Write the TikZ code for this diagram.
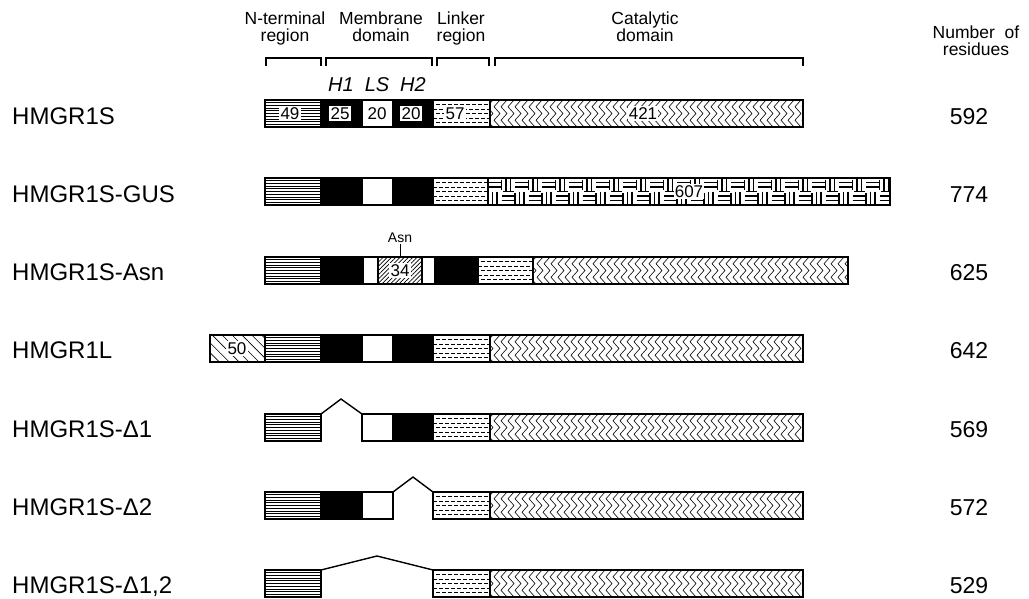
\documentclass[tikz,border=0pt]{standalone}
\usepackage{fontspec}
\setmainfont{Liberation Sans}
\usetikzlibrary{patterns.meta}

% segment macros: #1 = left x, #2 = right x, #3 = top y (bar height 27)
\newcommand\segOutline[3]{\draw[segline] (#1,#3) rectangle (#2,#3+27);}
\newcommand\segBlack[3]{\fill[black] (#1,#3) rectangle (#2,#3+27);\segOutline{#1}{#2}{#3}}
\newcommand\segWhite[3]{\fill[white] (#1,#3) rectangle (#2,#3+27);\segOutline{#1}{#2}{#3}}
\newcommand\segNterm[3]{%
  \begin{scope}
    \clip (#1,#3) rectangle (#2,#3+27);
    \fill[white] (#1,#3) rectangle (#2,#3+27);
    \foreach \k in {1,...,9}{\draw[line width=0.8pt] (#1,#3+\k*2.7) -- (#2,#3+\k*2.7);}
  \end{scope}
  \segOutline{#1}{#2}{#3}}
\newcommand\segLinker[3]{%
  \begin{scope}
    \clip (#1,#3) rectangle (#2,#3+27);
    \fill[white] (#1,#3) rectangle (#2,#3+27);
    \foreach \k in {1,...,5}{\pgfmathsetmacro\ph{mod(\k,2)*3}%
      \draw[line width=0.8pt,dash pattern=on 4pt off 2pt,dash phase=\ph pt] (#1,#3+\k*4.5) -- (#2,#3+\k*4.5);}
  \end{scope}
  \segOutline{#1}{#2}{#3}}
\newcommand\segCat[3]{%
  \begin{scope}
    \clip (#1,#3) rectangle (#2,#3+27);
    \fill[white] (#1,#3) rectangle (#2,#3+27);
    \foreach \i in {0,...,60}{%
      \draw[line width=0.6pt] (#1+\i*7+3,#3) -- (#1+\i*7-3,#3+6.75) -- (#1+\i*7+3,#3+13.5)
        -- (#1+\i*7-3,#3+20.25) -- (#1+\i*7+3,#3+27);}
  \end{scope}
  \segOutline{#1}{#2}{#3}}
% basket weave for GUS
\newcommand\segGus[3]{%
  \begin{scope}
    \clip (#1,#3) rectangle (#2,#3+27);
    \fill[white] (#1,#3) rectangle (#2,#3+27);
    \foreach \i in {0,...,30}{\foreach \j in {0,1}{%
      \pgfmathtruncatemacro\pq{mod(\i+\j,2)}%
      \ifnum\pq=0
        \draw[line width=1.3pt] (#1+\i*13.5,#3+\j*13.5+4.5) -- ++(13.5,0)
          (#1+\i*13.5,#3+\j*13.5+9) -- ++(13.5,0)
          (#1+\i*13.5+13.5,#3+\j*13.5+1.5) -- ++(0,10.5);
      \else
        \draw[line width=1.3pt] (#1+\i*13.5+4.5,#3+\j*13.5) -- ++(0,13.5)
          (#1+\i*13.5+9,#3+\j*13.5) -- ++(0,13.5)
          (#1+\i*13.5+1.5,#3+\j*13.5+13.5) -- ++(10.5,0);
      \fi}}
  \end{scope}
  \segOutline{#1}{#2}{#3}}
\newcommand\segPat[4]{\fill[white] (#1,#3) rectangle (#2,#3+27);
  \fill[pattern={#4}] (#1,#3) rectangle (#2,#3+27);\segOutline{#1}{#2}{#3}}

\begin{document}
\begin{tikzpicture}[x=1pt,y=-1pt,
  segline/.style={line width=1.1pt},
  lab/.style={font=\fontsize{24}{28}\selectfont, anchor=base west, inner sep=0pt},
  res/.style={font=\fontsize{23}{27}\selectfont, anchor=base, inner sep=0pt},
  head/.style={font=\fontsize{17.5}{16.5}\selectfont, align=center, anchor=north, inner sep=0pt},
  hlab/.style={font=\fontsize{20}{22}\selectfont\itshape, inner sep=0pt},
  num/.style={font=\fontsize{17}{17}\selectfont, fill=white, inner sep=1.2pt},
  brk/.style={line width=1.4pt},
  gap/.style={line width=1.4pt, line join=miter}]
\useasboundingbox (0,0) rectangle (1029,598);

% ---- header ----
\node[head] (hN) at (285,12) {N-terminal\\region};
\node[head] (hM) at (381,12) {Membrane\\domain};
\node[head] (hL) at (461,12) {Linker\\region};
\node[head] (hC) at (645,12) {Catalytic\\domain};
\node[head] (hR) at (976,26) {Number~ of\\residues};

\coordinate (b1a) at (266,66); \coordinate (b1b) at (321,66);
\coordinate (b2a) at (326,66); \coordinate (b2b) at (432,66);
\coordinate (b3a) at (437,66); \coordinate (b3b) at (489,66);
\coordinate (b4a) at (495,66); \coordinate (b4b) at (803,66);
\draw[brk] (b1a) -- ++(0,-8) -| (b1b);
\draw[brk] (b2a) -- ++(0,-8) -| (b2b);
\draw[brk] (b3a) -- ++(0,-8) -| (b3b);
\draw[brk] (b4a) -- ++(0,-8) -| (b4b);

\node[hlab] (hH1) at (341,85) {H1};
\node[hlab] (hLS) at (377,85) {LS};
\node[hlab] (hH2) at (413,85) {H2};

% ---- row 1: HMGR1S ----
\node[lab] (l1) at (12,124) {HMGR1S};
\segNterm{265}{321}{100}
\segBlack{321}{362}{100}
\segWhite{362}{393}{100}
\segBlack{393}{433}{100}
\segLinker{433}{490}{100}
\segCat{490}{803}{100}
\node[num] (n49) at (290,113.5) {49};
\node[num] (n25) at (340,113.5) {25};
\node[num] (n20a) at (377,113.5) {20};
\node[num] (n20b) at (411,113.5) {20};
\node[num] (n57) at (455,113.5) {57};
\node[num] (n421) at (643,113.5) {421};
\node[res] (r1) at (969,124) {592};

% ---- row 2: HMGR1S-GUS ----
\node[lab] (l2) at (12,202) {HMGR1S-GUS};
\segNterm{265}{321}{178}
\segBlack{321}{362}{178}
\segWhite{362}{393}{178}
\segBlack{393}{433}{178}
\segLinker{433}{488}{178}
\segGus{488}{890}{178}
\node[num] (n607) at (689,191.5) {607};
\node[res] (r2) at (969,202) {774};

% ---- row 3: HMGR1S-Asn ----
\node[lab] (l3) at (12,280) {HMGR1S-Asn};
\segNterm{265}{321}{257}
\segBlack{321}{363}{257}
\segWhite{363}{378}{257}
\segPat{378}{422}{257}{Lines[angle=45,distance=3pt,line width=0.6pt]}
\segWhite{422}{435}{257}
\segBlack{435}{478}{257}
\segLinker{478}{533}{257}
\segCat{533}{848}{257}
\node[num] (n34) at (400,270.5) {34};
\node[font=\fontsize{14}{14}\selectfont, inner sep=0pt] (asn) at (400,237.5) {Asn};
\coordinate (asnpt) at (400,257);
\draw[line width=0.8pt] (asn.south) ++(0,1.5) -- (asnpt);
\node[res] (r3) at (969,280) {625};

% ---- row 4: HMGR1L ----
\node[lab] (l4) at (12,358) {HMGR1L};
\segPat{210}{265}{335}{Lines[angle=-45,distance=7pt,line width=0.6pt]}
\segNterm{265}{321}{335}
\segBlack{321}{362}{335}
\segWhite{362}{393}{335}
\segBlack{393}{433}{335}
\segLinker{433}{490}{335}
\segCat{490}{803}{335}
\node[num] (n50) at (237,348.5) {50};
\node[res] (r4) at (969,358) {642};

% ---- row 5: HMGR1S-Delta1 ----
\node[lab] (l5) at (12,437) {HMGR1S-Δ1};
\segNterm{265}{321}{414}
\segWhite{362}{393}{414}
\segBlack{393}{433}{414}
\segLinker{433}{490}{414}
\segCat{490}{803}{414}
\coordinate (g5a) at (321,414); \coordinate (g5p) at (341,399); \coordinate (g5b) at (362,414);
\draw[gap] (g5a) -- (g5p) -- (g5b);
\node[res] (r5) at (969,437) {569};

% ---- row 6: HMGR1S-Delta2 ----
\node[lab] (l6) at (12,515) {HMGR1S-Δ2};
\segNterm{265}{321}{492}
\segBlack{321}{362}{492}
\segWhite{362}{393}{492}
\segLinker{433}{490}{492}
\segCat{490}{803}{492}
\coordinate (g6a) at (393,492); \coordinate (g6p) at (413,477); \coordinate (g6b) at (433,492);
\draw[gap] (g6a) -- (g6p) -- (g6b);
\node[res] (r6) at (969,515) {572};

% ---- row 7: HMGR1S-Delta1,2 ----
\node[lab] (l7) at (12,593) {HMGR1S-Δ1,2};
\segNterm{265}{321}{570}
\segLinker{433}{490}{570}
\segCat{490}{803}{570}
\coordinate (g7a) at (321,570); \coordinate (g7p) at (377,556); \coordinate (g7b) at (433,570);
\draw[gap] (g7a) -- (g7p) -- (g7b);
\node[res] (r7) at (969,593) {529};
\end{tikzpicture}
\end{document}
